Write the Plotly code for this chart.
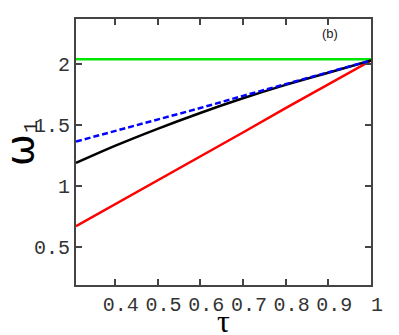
import plotly.graph_objects as go

# values
tau = [0.309, 0.4, 0.5, 0.6, 0.7, 0.8, 0.9, 1.0]
omega_black = [1.19, 1.33, 1.47, 1.60, 1.72, 1.83, 1.93, 2.03]
omega_blue = [1.366, 1.45, 1.545, 1.64, 1.74, 1.835, 1.93, 2.03]
omega_red = [0.672, 0.85, 1.05, 1.245, 1.44, 1.64, 1.835, 2.03]
omega_green = [2.04] * len(tau)

x_ticks = [0.4, 0.5, 0.6, 0.7, 0.8, 0.9, 1.0]
x_labels = ["0.4", "0.5", "0.6", "0.7", "0.8", "0.9", "1"]
y_ticks = [0.5, 1.0, 1.5, 2.0]
y_labels = ["0.5", "1", "1.5", "2"]

MONO = "Liberation Mono"
NBSP = "\u00a0"

# the page body has an 8px margin, so the figure is made smaller to fit
W, H = 391, 327
L, R, T, B = 68, 28, 11, 50
OFF = 8

fig = go.Figure()

# curves
fig.add_trace(go.Scatter(x=tau, y=omega_green, mode="lines",
                         line=dict(color="#00e600", width=2.5)))
fig.add_trace(go.Scatter(x=tau, y=omega_red, mode="lines",
                         line=dict(color="#ff0000", width=2.5)))
fig.add_trace(go.Scatter(x=tau, y=omega_black, mode="lines", line_shape="spline",
                         line=dict(color="black", width=2.5)))
fig.add_trace(go.Scatter(x=tau, y=omega_blue, mode="lines",
                         line=dict(color="#0000ff", width=2.5, dash="6px,3px")))

axis_style = dict(
    showline=True, linecolor="#444", linewidth=2, mirror="ticks",
    ticks="inside", ticklen=6, tickwidth=1.5, tickcolor="#444",
    showgrid=False, zeroline=False, automargin=False, tickangle=0,
    tickfont=dict(family=MONO, size=20, color="#333"),
)

fig.update_layout(
    width=W, height=H,
    margin=dict(l=L, r=R, t=T, b=B),
    plot_bgcolor="white", paper_bgcolor="white",
    showlegend=False,
    # shift x labels a bit to the right like the original
    xaxis=dict(range=[0.309, 1.0], tickvals=x_ticks,
               ticktext=[NBSP + t for t in x_labels],
               **axis_style),
    yaxis=dict(range=[0.19, 2.37], tickvals=y_ticks, ticktext=y_labels,
               **axis_style),
)

# axis titles and panel tag, placed by screen pixel
labels = [
    ("τ", 0, dict(family="Liberation Serif", size=32, color="black"), (223, 321)),
    ("ω", -90, dict(family="DejaVu Sans", size=38, color="black"), (20, 150)),
    ("1", -90, dict(family=MONO, size=20, color="#222"), (31, 127)),
    ("(b)", 0, dict(family="Liberation Sans", size=13, color="#222"), (330, 34)),
]
for text, angle, font, (px, py) in labels:
    fig.add_annotation(
        text=text, textangle=angle, font=font, showarrow=False,
        xref="paper", yref="paper", xanchor="center", yanchor="middle",
        x=(px - OFF - L) / (W - L - R),
        y=(H - B - (py - OFF)) / (H - T - B),
    )

fig.write_html("out.html")
